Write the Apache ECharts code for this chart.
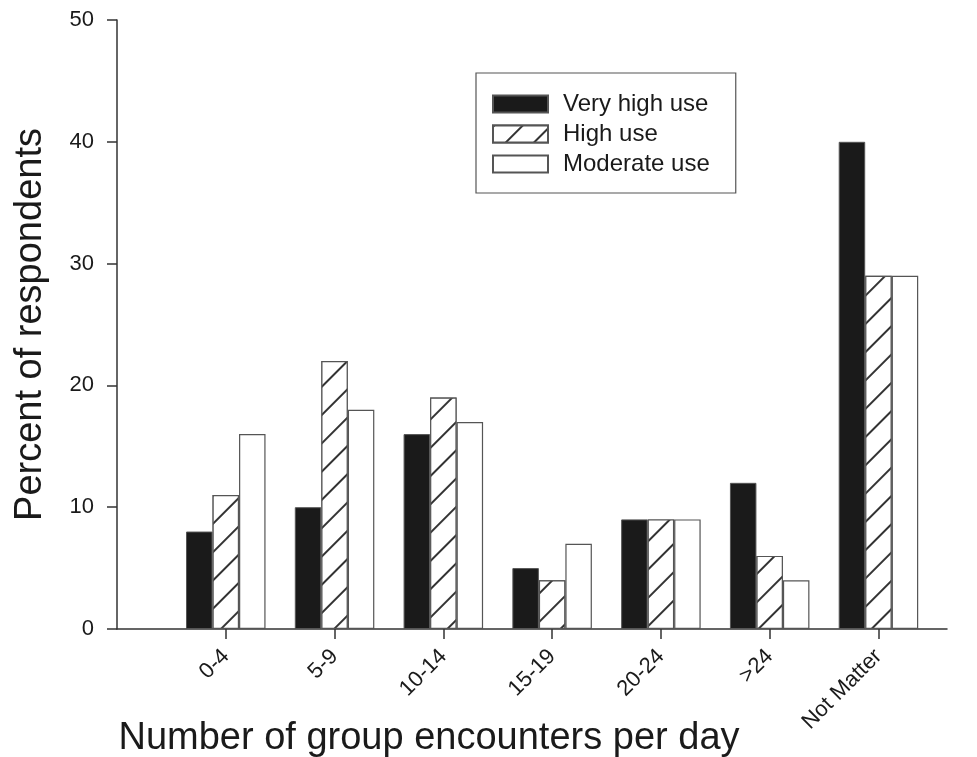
<!DOCTYPE html>
<html><head><meta charset="utf-8">
<script src="https://cdn.jsdelivr.net/npm/echarts@6/dist/echarts.min.js"></script>
<style>html,body{margin:0;padding:0;background:#fff;overflow:hidden}#c{width:977px;height:757px}</style>
</head><body><div id="c"></div>
<script>
const categories = ['0-4','5-9','10-14','15-19','20-24','>24','Not Matter'];
const seriesNames = ['Very high use','High use','Moderate use'];
const veryHigh = [8,10,16,5,9,12,40];
const high = [11,22,19,4,9,6,29];
const moderate = [16,18,17,7,9,4,29];
const yTicks = [0,10,20,30,40,50];

const font = 'Liberation Sans, Arial, sans-serif';
const edge = '#555';
const pos = categories.map((c,i)=>i+1);
function pts(arr){return arr.map((v,i)=>[i+1,v]);}

const chart = echarts.init(document.getElementById('c'));
chart.setOption({
  animation:false,
  backgroundColor:'#fff',
  textStyle:{fontFamily:font},
  grid:{left:117,top:20,width:830,height:609,containLabel:false,outerBoundsMode:'none'},
  legend:{
    orient:'vertical', left:476, top:73,
    padding:[19,26,17,16], itemGap:6, itemWidth:55, itemHeight:17,
    borderColor:edge, borderWidth:1.2,
    textStyle:{fontSize:24, color:'#1a1a1a', fontFamily:font, lineHeight:23, padding:[0,0,0,10]},
    icon:'rect', selectedMode:false,
    data:seriesNames
  },
  xAxis:{
    type:'value', min:0, max:7.63,
    name:'Number of group encounters per day', nameLocation:'middle', nameGap:91, nameMoveOverlap:false,
    nameTextStyle:{fontSize:38, color:'#1a1a1a', fontFamily:font, padding:[0,0,0,-206]},
    splitLine:{show:false},
    axisLine:{show:true, onZero:false, lineStyle:{color:'#333', width:1.5}},
    axisTick:{show:true, inside:false, length:10, customValues:pos, lineStyle:{color:'#333', width:1.5}},
    axisLabel:{rotate:45, fontSize:22, color:'#1a1a1a', margin:24, fontFamily:font,
      customValues:pos,
      formatter:function(v){const i=Math.round(v)-1;return categories[i]||'';}}
  },
  yAxis:{
    type:'value', min:0, max:50, interval:10,
    name:'Percent of respondents', nameLocation:'middle', nameGap:67, nameMoveOverlap:false,
    nameTextStyle:{fontSize:38, color:'#1a1a1a', fontFamily:font},
    splitLine:{show:false},
    axisLine:{show:true, lineStyle:{color:'#333', width:1.5}},
    axisTick:{show:true, inside:false, length:10, lineStyle:{color:'#333', width:1.5}},
    axisLabel:{fontSize:22, color:'#1a1a1a', margin:23, fontFamily:font,
      formatter:function(v){return yTicks.indexOf(v)>=0?String(v):'';}}
  },
  series:[
    {name:seriesNames[0], type:'bar', data:pts(veryHigh), barWidth:26.5, barGap:'0%',
      itemStyle:{color:'#1a1a1a', borderColor:edge, borderWidth:1}},
    {name:seriesNames[1], type:'bar', data:pts(high), barWidth:26.5, barGap:'0%',
      itemStyle:{color:'#fff', borderColor:edge, borderWidth:1.2,
        decal:{symbol:'rect', symbolSize:1, color:'#333', backgroundColor:'#fff',
          dashArrayX:[[1,0]], dashArrayY:[1.3,17.6], rotation:-Math.PI/4}}},
    {name:seriesNames[2], type:'bar', data:pts(moderate), barWidth:26.5, barGap:'0%',
      itemStyle:{color:'#fff', borderColor:edge, borderWidth:1.2}}
  ]
});
</script></body></html>
